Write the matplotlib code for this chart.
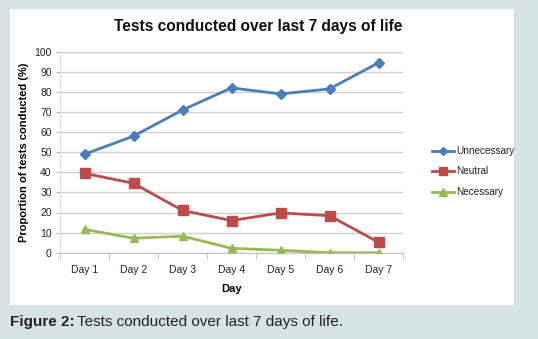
import matplotlib.pyplot as plt
from matplotlib.patches import Rectangle
from matplotlib.lines import Line2D

plt.rcParams['font.family'] = ['Liberation Sans', 'DejaVu Sans']

days = ['Day 1', 'Day 2', 'Day 3', 'Day 4', 'Day 5', 'Day 6', 'Day 7']
unnecessary = [49, 58, 71, 82, 79, 81.5, 94.5]
neutral = [39.5, 34.5, 21, 16, 19.8, 18.4, 5.2]
necessary = [11.6, 7.2, 8.2, 2.2, 1.2, 0, 0]

series = [
    ('Unnecessary', unnecessary, '#4a7ebb', 'D', 5),
    ('Neutral', neutral, '#be4b48', 's', 7),
    ('Necessary', necessary, '#98b954', '^', 6),
]

W, H = 538, 339
fig = plt.figure(figsize=(W / 100, H / 100), dpi=100)
fig.patch.set_facecolor('#d5e3e3')

# white chart panel
fig.add_artist(Rectangle((10 / W, 1 - 305 / H), 504 / W, 296 / H,
                         transform=fig.transFigure, facecolor='white',
                         edgecolor='none', zorder=0))

ax = fig.add_axes([60 / W, 1 - 252.7 / H, 343 / W, 201 / H])
ax.set_facecolor('none')
x = [i + 0.5 for i in range(len(days))]

for name, vals, color, marker, ms in series:
    ax.plot(x, vals, color=color, lw=2, marker=marker, ms=ms,
            markeredgecolor=color, label=name, zorder=3)

ax.set_xlim(0, 7)
ax.set_ylim(0, 100)
ax.set_yticks(range(0, 101, 10))
ax.set_xticks(x)
ax.set_xticklabels(days)
ax.set_xticks(range(0, 8), minor=True)
ax.tick_params(axis='x', which='major', length=0, pad=9, labelsize=7.5,
               labelcolor='#1e2233')
ax.tick_params(axis='x', which='minor', length=4, color='#b8b8b8',
               direction='out')
ax.tick_params(axis='y', length=3, color='#b8b8b8', labelsize=7.5,
               labelcolor='#1e2233', pad=3)
ax.grid(axis='y', color='#d0d0d0', lw=1)
ax.set_axisbelow(True)
for side in ['top', 'right']:
    ax.spines[side].set_visible(False)
ax.spines['left'].set_color('#e0e0e0')
ax.spines['bottom'].set_color('#c0c0c0')

ax.set_xlabel('Day', fontsize=8, fontweight='bold', labelpad=6)
ax.set_ylabel('Proportion of tests conducted (%)', fontsize=8,
              fontweight='bold', labelpad=4)

fig.text(258 / W, 1 - 27 / H, 'Tests conducted over last 7 days of life',
         ha='center', va='center', fontsize=11.2, fontweight='bold',
         color='#111111')

handles = [Line2D([], [], color=c, lw=2, marker=m, ms=s * 0.9,
                  markeredgecolor=c) for _, _, c, m, s in series]
fig.legend(handles, [s[0] for s in series], loc='upper left',
           bbox_to_anchor=(423 / W, 1 - 137 / H), frameon=False,
           fontsize=7.2, handlelength=2.2, handletextpad=0.2,
           labelspacing=1.05, labelcolor='#1e2233')

fig.text(10 / W, 1 - 322 / H, 'Figure 2:', ha='left', va='center',
         fontsize=11, fontweight='bold', color='#222222')
fig.text(77 / W, 1 - 322 / H, 'Tests conducted over last 7 days of life.',
         ha='left', va='center', fontsize=11, color='#222222')

fig.savefig('out.png', dpi=100, facecolor=fig.get_facecolor())
